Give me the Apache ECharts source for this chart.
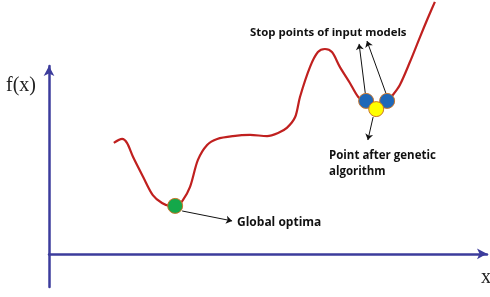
<!DOCTYPE html>
<html>
<head>
<meta charset="utf-8">
<script src="https://cdn.jsdelivr.net/npm/echarts@6/dist/echarts.min.js"></script>
<style>
  html, body { margin: 0; padding: 0; background: #fff; }
  #main { width: 490px; height: 297px; }
</style>
</head>
<body>
<div id="main"></div>
<script>
// curve f(x) (x: 0..10, y: -1.5..8.5)
const curveX = [1.48, 1.67, 1.78, 1.92, 2.15, 2.37, 2.58, 2.76, 2.92, 3.06, 3.22, 3.40, 3.61, 3.84, 4.20, 4.59, 4.98, 5.23, 5.43, 5.62, 5.73, 5.96, 6.14, 6.30, 6.46, 6.64, 6.87, 7.06, 7.24, 7.47, 7.72, 7.85, 8.01, 8.24, 8.47, 8.65, 8.81];
const curveY = [5.02, 5.20, 5.02, 4.38, 3.48, 2.66, 2.30, 2.17, 2.17, 2.44, 3.03, 4.25, 4.93, 5.20, 5.33, 5.38, 5.33, 5.47, 5.70, 6.19, 7.10, 8.46, 9.13, 9.27, 9.13, 8.46, 7.73, 7.10, 6.87, 6.78, 6.92, 7.19, 7.64, 8.68, 9.81, 10.67, 11.40];

// marked points
const globalOptima = [2.88, 2.17];
const stopPoints = [[7.24, 6.92], [7.72, 6.92]];
const gaPoint = [7.47, 6.55];

// annotation arrows [from, to]
const arrows = [
  [[3.04, 1.94], [4.18, 1.49]],
  [[7.22, 7.28], [7.08, 9.50]],
  [[7.69, 7.28], [7.26, 9.63]],
  [[7.40, 6.19], [7.28, 5.15]]
];

const axisColor = '#3c3c9c';
const edgeColor = '#c8742a';

let chart = echarts.init(document.getElementById('main'));
let option = {
  animation: false,
  grid: { left: 49, right: 3, top: 66, bottom: 10 },
  xAxis: {
    type: 'value', min: 0, max: 10,
    axisLine: { onZero: true, symbol: ['none', 'arrow'], symbolSize: [8, 10], lineStyle: { color: axisColor, width: 2.5 } },
    axisTick: { show: false }, axisLabel: { show: false }, splitLine: { show: false }
  },
  yAxis: {
    type: 'value', min: -1.5, max: 8.5,
    axisLine: { onZero: true, symbol: ['none', 'arrow'], symbolSize: [8, 10], lineStyle: { color: axisColor, width: 2.5 } },
    axisTick: { show: false }, axisLabel: { show: false }, splitLine: { show: false }
  },
  series: [
    {
      type: 'line', smooth: 0.3, clip: false, symbol: 'none',
      data: curveX.map((x, i) => [x, curveY[i]]),
      lineStyle: { color: '#c0201f', width: 2.2 }
    },
    {
      type: 'lines', coordinateSystem: 'cartesian2d', z: 3, clip: false,
      symbol: ['none', 'arrow'], symbolSize: 6,
      lineStyle: { color: '#111', width: 1, opacity: 1 },
      data: arrows.map(a => ({ coords: a }))
    },
    {
      type: 'scatter', symbolSize: 15, z: 4,
      itemStyle: { color: '#14a84a', borderColor: edgeColor, borderWidth: 1, opacity: 1 },
      data: [globalOptima]
    },
    {
      type: 'scatter', symbolSize: 15, z: 4,
      itemStyle: { color: '#1f68b8', borderColor: edgeColor, borderWidth: 1, opacity: 1 },
      data: stopPoints
    },
    {
      type: 'scatter', symbolSize: 15, z: 5,
      itemStyle: { color: '#ffff00', borderColor: edgeColor, borderWidth: 1, opacity: 1 },
      data: [gaPoint]
    }
  ],
  graphic: [
    { type: 'text', left: 6, top: 76, style: { text: 'f(x)', font: '20px "Liberation Serif"', fill: '#222' } },
    { type: 'text', left: 481, top: 268, style: { text: 'x', font: '20px "Liberation Serif"', fill: '#222' } },
    { type: 'text', left: 250, top: 27, style: { text: 'Stop points of input models', font: 'bold 11.4px "Open Sans"', fill: '#111' } },
    { type: 'text', left: 329, top: 148, style: { text: 'Point after genetic\nalgorithm', font: 'bold 11.5px "Open Sans"', lineHeight: 16, fill: '#111' } },
    { type: 'text', left: 237, top: 217, style: { text: 'Global optima', font: 'bold 12px "Open Sans"', fill: '#111' } }
  ]
};
option && chart.setOption(option);
</script>
</body>
</html>
